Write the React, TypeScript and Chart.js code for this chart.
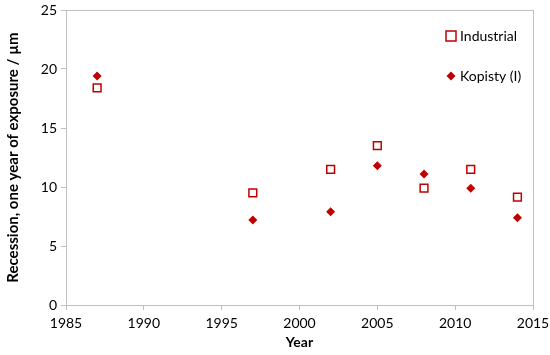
import React, { useEffect, useRef } from "react";
import { Chart, registerables } from "chart.js";

Chart.register(...registerables);

const years = [1987, 1997, 2002, 2005, 2008, 2011, 2014];
const industrial = [18.4, 9.5, 11.5, 13.5, 9.9, 11.5, 9.15];
const kopisty = [19.4, 7.2, 7.9, 11.8, 11.1, 9.9, 7.4];
const seriesNames = ["Industrial", "Kopisty (I)"];
const xTitle = "Year";
const yTitle = "Recession, one year of exposure / µm";

const RED = "#C00000";
const GRID = "#BFBFBF";
const FONT = "Lato, 'Open Sans', sans-serif";

const frame = {
  id: "frame",
  afterDraw(chart: any) {
    const { ctx, chartArea: a } = chart;
    ctx.save();
    ctx.strokeStyle = GRID;
    ctx.lineWidth = 1;
    ctx.strokeRect(Math.round(a.left) + 0.5, Math.round(a.top) + 0.5, Math.round(a.right - a.left), Math.round(a.bottom - a.top));
    // legend
    const lx = 451, ly1 = 36, ly2 = 76;
    ctx.strokeStyle = RED;
    ctx.lineWidth = 1.5;
    ctx.strokeRect(lx - 5, ly1 - 5, 10, 10);
    ctx.fillStyle = RED;
    ctx.beginPath();
    ctx.moveTo(lx, ly2 - 4.5);
    ctx.lineTo(lx + 4.5, ly2);
    ctx.lineTo(lx, ly2 + 4.5);
    ctx.lineTo(lx - 4.5, ly2);
    ctx.closePath();
    ctx.fill();
    ctx.fillStyle = "#000";
    ctx.font = `14px ${FONT}`;
    ctx.textBaseline = "middle";
    ctx.fillText(seriesNames[0], lx + 9, ly1);
    ctx.fillText(seriesNames[1], lx + 9, ly2);
    ctx.restore();
  },
};

export default function App() {
  const ref = useRef<HTMLCanvasElement>(null);
  useEffect(() => {
    const chart = new Chart(ref.current!, {
      type: "scatter",
      data: {
        datasets: [
          {
            label: seriesNames[0],
            data: years.map((x, i) => ({ x, y: industrial[i] })),
            pointStyle: "rect",
            pointRadius: 5.5,
            pointBorderWidth: 1.5,
            borderColor: RED,
            backgroundColor: "rgba(0,0,0,0)",
          },
          {
            label: seriesNames[1],
            data: years.map((x, i) => ({ x, y: kopisty[i] })),
            pointStyle: "rectRot",
            pointRadius: 4.5,
            pointBorderWidth: 0,
            borderColor: RED,
            backgroundColor: RED,
          },
        ],
      },
      options: {
        animation: false,
        responsive: false,
        layout: { padding: { top: 10, right: 17, left: 0, bottom: 0 } },
        plugins: { legend: { display: false }, tooltip: { enabled: false } },
        scales: {
          x: {
            type: "linear",
            min: 1985,
            max: 2015,
            afterFit(s: any) { s.height = 50; s.paddingRight = 0; s.paddingLeft = 0; },
            ticks: { stepSize: 5, color: "#000", font: { family: FONT, size: 14 }, padding: 5, maxRotation: 0, callback: (v: any) => String(v) },
            grid: { drawOnChartArea: false, color: GRID, tickLength: 5 },
            border: { color: GRID },
            title: { display: true, text: xTitle, color: "#000", font: { family: FONT, size: 14, weight: "bold" }, padding: { top: 3 } },
          },
          y: {
            min: 0,
            max: 25,
            afterFit(s: any) { s.width = 66; s.paddingTop = 0; s.paddingBottom = 0; },
            ticks: { stepSize: 5, color: "#000", font: { family: FONT, size: 14 }, padding: 4 },
            grid: { drawOnChartArea: false, color: GRID, tickLength: 5 },
            border: { color: GRID },
            title: { display: true, text: yTitle, color: "#000", font: { family: FONT, size: 15, weight: "bold" }, padding: { bottom: 2 } },
          },
        },
      },
      plugins: [frame],
    });
    return () => chart.destroy();
  }, []);
  return (
    <div style={{ position: "fixed", left: 0, top: 0, width: 550, height: 355, background: "#fff" }}>
      <canvas ref={ref} width={550} height={355} />
    </div>
  );
}
